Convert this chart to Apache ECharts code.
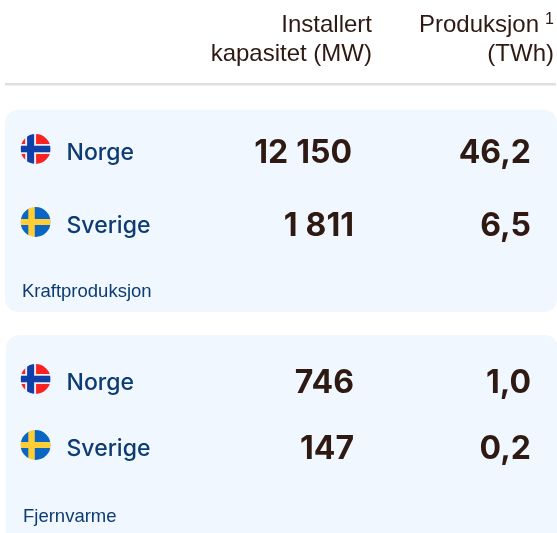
<!DOCTYPE html>
<html>
<head>
<meta charset="utf-8">
<style>
html,body{margin:0;padding:0;background:#fff;}
#chart{width:557px;height:533px;}
</style>
<script src="https://cdn.jsdelivr.net/npm/echarts@6/dist/echarts.min.js"></script>
</head>
<body>
<div id="chart"></div>
<script>
// tabellens innhold
var headerCapacity = ['Installert', 'kapasitet (MW)'];
var headerProduction = ['Produksjon', '(TWh)'];
var countries = ['Norge', 'Sverige'];
var powerCapacity = ['12\u2005150', '1\u2005811'];
var powerProduction = ['46,2', '6,5'];
var heatCapacity = ['746', '147'];
var heatProduction = ['1,0', '0,2'];
var groupNames = ['Kraftproduksjon', 'Fjernvarme'];

var panelColor = '#f0f7fe', navy = '#0d3b73', brown = '#2e1a12';
var bigFont = 'Inter', nameFont = 'Inter', smallFont = '"Liberation Sans"';

function txt(text, x, y, size, color, align, font, weight) {
    return {
        type: 'text', x: x, y: y, silent: true,
        style: {
            text: text, fill: color, align: align, verticalAlign: 'middle',
            font: (weight || 'normal') + ' ' + size + 'px ' + font
        }
    };
}
function rect(x, y, w, h, color, r) {
    return { type: 'rect', silent: true, shape: { x: x, y: y, width: w, height: h, r: r || 0 }, style: { fill: color } };
}
// flagg: firkant med en ring i panelfarge rundt, saa det blir rundt
function flag(name, cx, cy) {
    var s = 15, list = [];
    if (name == 'Norge') {
        list.push(rect(cx - s, cy - s, 2 * s, 2 * s, '#fb2222'));
        list.push(rect(cx - 10.5, cy - s, 11, 2 * s, '#f2ecec'));
        list.push(rect(cx - s, cy - 5, 2 * s, 10, '#f2ecec'));
        list.push(rect(cx - 8.5, cy - s, 7, 2 * s, '#0f3fa8'));
        list.push(rect(cx - s, cy - 3.25, 2 * s, 6.5, '#0f3fa8'));
    } else {
        list.push(rect(cx - s, cy - s, 2 * s, 2 * s, '#0a66c2'));
        list.push(rect(cx - 7.3, cy - s, 6.5, 2 * s, '#ffcd35'));
        list.push(rect(cx - s, cy - 3, 2 * s, 6, '#ffcd35'));
    }
    list.push({ type: 'ring', silent: true, shape: { cx: cx, cy: cy, r: 23, r0: s }, style: { fill: panelColor } });
    return list;
}
// en rad i et panel
function row(i, y, capacity, production, capX, prodX) {
    var list = flag(countries[i], 35.6, y - 3);
    list.push(txt(countries[i], 66.5, y + 1, 23, navy, 'left', nameFont, '500'));
    list.push(txt(capacity[i], capX, y + 1, 32, brown, 'right', bigFont, 'bold'));
    list.push(txt(production[i], prodX, y + 1, 32, brown, 'right', bigFont, 'bold'));
    return list;
}

var els = [];
els.push(txt(headerCapacity[0], 372, 25, 24, brown, 'right', smallFont));
els.push(txt(headerCapacity[1], 372, 54, 24, brown, 'right', smallFont));
els.push(txt(headerProduction[0], 539, 25, 24, brown, 'right', smallFont));
els.push(txt('1', 554, 20, 16, brown, 'right', smallFont));
els.push(txt(headerProduction[1], 554, 54, 24, brown, 'right', smallFont));
els.push(rect(5, 83, 551, 2.5, '#e2dedb'));

els.push(rect(5, 110, 552, 202, panelColor, 13));
els = els.concat(row(0, 152, powerCapacity, powerProduction, 352, 531));
els = els.concat(row(1, 225, powerCapacity, powerProduction, 354, 531));
els.push(txt(groupNames[0], 22, 292, 18.5, navy, 'left', smallFont));

els.push(rect(6, 335, 552, 210, panelColor, 13));
els = els.concat(row(0, 382, heatCapacity, heatProduction, 354, 531));
els = els.concat(row(1, 448, heatCapacity, heatProduction, 354, 531));
els.push(txt(groupNames[1], 23, 517, 18.5, navy, 'left', smallFont));

var chart = echarts.init(document.getElementById('chart'), null, { renderer: 'canvas' });
chart.setOption({
    animation: false,
    backgroundColor: '#fff',
    graphic: { elements: els }
});
</script>
</body>
</html>
